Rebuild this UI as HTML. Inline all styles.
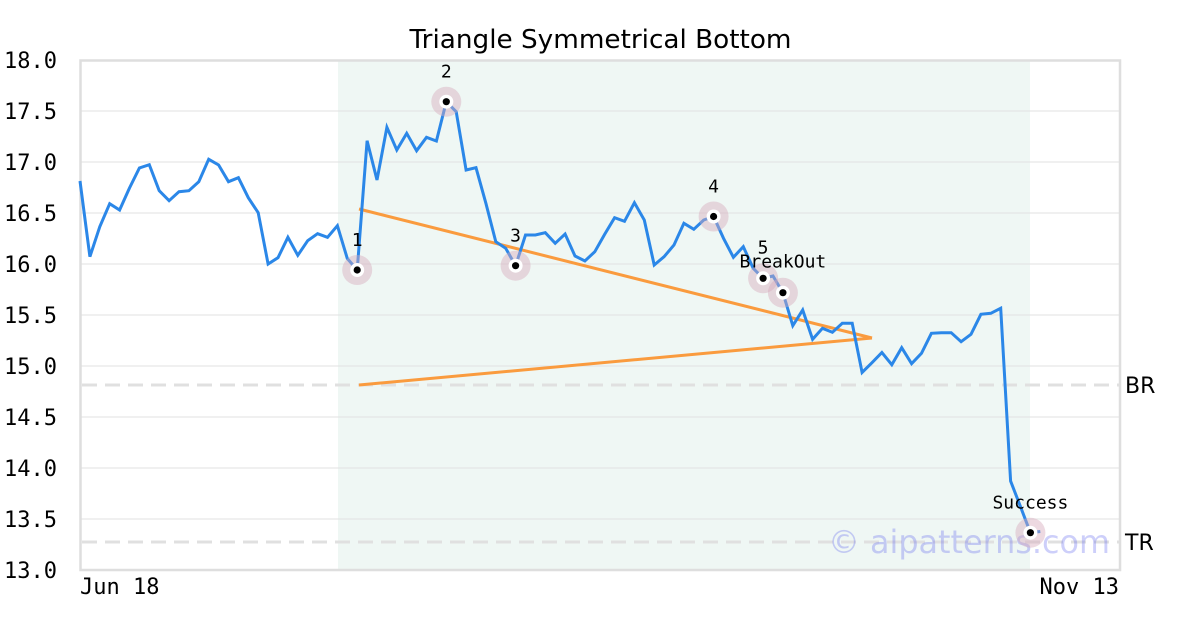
<!DOCTYPE html>
<html><head><meta charset="utf-8"><style>
html,body{margin:0;padding:0;background:#fff;}
svg{display:block;}
</style></head><body>
<svg width="1200" height="630" viewBox="0 0 1200 630" xmlns="http://www.w3.org/2000/svg">
<rect x="0" y="0" width="1200" height="630" fill="#ffffff"/>
<!-- shaded region -->
<rect x="338" y="61" width="692" height="508" fill="#eff7f4"/>
<!-- grid -->
<g stroke="#e2e2e2" stroke-width="1">
<line x1="81" y1="111" x2="1119" y2="111"/>
<line x1="81" y1="162" x2="1119" y2="162"/>
<line x1="81" y1="213" x2="1119" y2="213"/>
<line x1="81" y1="264" x2="1119" y2="264"/>
<line x1="81" y1="315" x2="1119" y2="315"/>
<line x1="81" y1="366" x2="1119" y2="366"/>
<line x1="81" y1="417" x2="1119" y2="417"/>
<line x1="81" y1="468" x2="1119" y2="468"/>
<line x1="81" y1="519" x2="1119" y2="519"/>
</g>
<!-- dashed BR / TR -->
<g stroke="#e0e0e0" stroke-width="3" stroke-dasharray="15 8">
<line x1="82" y1="385" x2="1120" y2="385"/>
<line x1="82" y1="542" x2="1120" y2="542"/>
</g>
<!-- frame -->
<rect x="80.5" y="60.5" width="1039.5" height="509.5" fill="none" stroke="#dedede" stroke-width="2.5"/>
<!-- watermark -->
<text x="828" y="553" font-family="DejaVu Sans, Liberation Sans, sans-serif" font-size="32" fill="rgba(90,95,240,0.3)" textLength="282" lengthAdjust="spacingAndGlyphs">© aipatterns.com</text>
<!-- orange triangle lines -->
<g stroke="#fa9b3e" stroke-width="3" fill="none" stroke-linecap="butt">
<line x1="359" y1="209" x2="872" y2="338"/>
<line x1="359" y1="385" x2="872" y2="338"/>
</g>
<!-- price line -->
<polyline fill="none" stroke="#2b87e8" stroke-width="3" stroke-linejoin="miter" points="
80,181 89.9,256.7 99.8,226.7 109.7,203.7 119.6,210 129.5,188 139.4,168 149.3,164.7 159.2,190.7 169.1,200.7
179,191.7 188.9,190.7 198.8,181.7 208.7,159.3 218.6,165 228.5,181.7 238.4,177.7 248.3,197.7 258.2,212.7 268.1,264
278,257.7 287.9,237.3 297.8,255.3 307.7,240.7 317.6,233.7 327.5,237.3 337.4,225.7 347.3,258.5 357.2,270 367.1,140.7
377,180 386.9,127.3 396.8,150 406.7,133.3 416.6,150.7 426.5,137.3 436.4,141 446.3,101.7 456.2,111.7 466.1,170
476,167.7 485.9,203.3 495.8,241.7 505.7,248.3 515.6,265.7 525.5,235 535.4,235 545.3,232.7 555.2,243.3 565.1,234
575,256 584.9,261 594.8,251.7 604.7,234.3 614.6,217.7 624.5,221.3 634.4,202.7 644.3,220 654.2,265 664.1,256.7
674,245 683.9,223.3 693.8,229.3 703.7,220 713.6,216.5 723.5,238.3 733.4,257.3 743.3,246.7 753.2,268.3 763.1,278.3
773,276 782.9,292.7 792.8,325.7 802.7,310 812.6,339.3 822.5,328.3 832.4,332.3 842.3,323.3 852.2,323.3 862.1,372.5
872,362.7 881.9,352.5 891.8,364.7 901.7,347.7 911.6,363.7 921.5,353.3 931.4,333.3 941.3,332.7 951.2,332.7 961.1,341.7
971,334.3 980.9,314.3 990.8,313.3 1000.7,308.3 1010.6,481 1020.5,506.7 1030.4,532.7 1040.3,531.5"/>
<!-- markers -->
<g>
<circle cx="357.2" cy="270" r="15" fill="rgba(215,170,188,0.45)"/>
<circle cx="446.3" cy="101.7" r="15" fill="rgba(215,170,188,0.45)"/>
<circle cx="515.6" cy="265.7" r="15" fill="rgba(215,170,188,0.45)"/>
<circle cx="713.6" cy="216.5" r="15" fill="rgba(215,170,188,0.45)"/>
<circle cx="763.1" cy="278.3" r="15" fill="rgba(215,170,188,0.45)"/>
<circle cx="782.9" cy="292.7" r="15" fill="rgba(215,170,188,0.45)"/>
<circle cx="1030.4" cy="532.7" r="15" fill="rgba(215,170,188,0.45)"/>
</g>
<g fill="#ffffff">
<circle cx="357.2" cy="270" r="7"/>
<circle cx="446.3" cy="101.7" r="7"/>
<circle cx="515.6" cy="265.7" r="7"/>
<circle cx="713.6" cy="216.5" r="7"/>
<circle cx="763.1" cy="278.3" r="7"/>
<circle cx="782.9" cy="292.7" r="7"/>
<circle cx="1030.4" cy="532.7" r="7"/>
</g>
<g fill="#000000">
<circle cx="357.2" cy="270" r="3.6"/>
<circle cx="446.3" cy="101.7" r="3.6"/>
<circle cx="515.6" cy="265.7" r="3.6"/>
<circle cx="713.6" cy="216.5" r="3.6"/>
<circle cx="763.1" cy="278.3" r="3.6"/>
<circle cx="782.9" cy="292.7" r="3.6"/>
<circle cx="1030.4" cy="532.7" r="3.6"/>
</g>
<!-- marker labels -->
<g font-family="DejaVu Sans Mono, Liberation Mono, monospace" font-size="18" fill="#000" text-anchor="middle">
<text x="357.2" y="246">1</text>
<text x="446.3" y="77.5">2</text>
<text x="515.6" y="241.5">3</text>
<text x="713.6" y="192.3">4</text>
<text x="763.1" y="253.5">5</text>
<text x="782.9" y="267.5">BreakOut</text>
<text x="1030.4" y="508.5">Success</text>
</g>
<!-- y axis labels -->
<g font-family="DejaVu Sans Mono, Liberation Mono, monospace" font-size="22" fill="#000" text-anchor="end">
<text x="57" y="68">18.0</text>
<text x="57" y="119">17.5</text>
<text x="57" y="170">17.0</text>
<text x="57" y="221">16.5</text>
<text x="57" y="272">16.0</text>
<text x="57" y="323">15.5</text>
<text x="57" y="374">15.0</text>
<text x="57" y="425">14.5</text>
<text x="57" y="476">14.0</text>
<text x="57" y="527">13.5</text>
<text x="57" y="578">13.0</text>
</g>
<!-- x axis labels -->
<g font-family="DejaVu Sans Mono, Liberation Mono, monospace" font-size="22" fill="#000">
<text x="80" y="594">Jun 18</text>
<text x="1119" y="594" text-anchor="end">Nov 13</text>
</g>
<!-- BR / TR -->
<g font-family="DejaVu Sans, Liberation Sans, sans-serif" font-size="22" fill="#000">
<text x="1125" y="393">BR</text>
<text x="1125" y="550">TR</text>
</g>
<!-- title -->
<text x="600.5" y="48" font-family="DejaVu Sans, Liberation Sans, sans-serif" font-size="26" fill="#000" text-anchor="middle" textLength="382" lengthAdjust="spacingAndGlyphs">Triangle Symmetrical Bottom</text>
</svg>
</body></html>
